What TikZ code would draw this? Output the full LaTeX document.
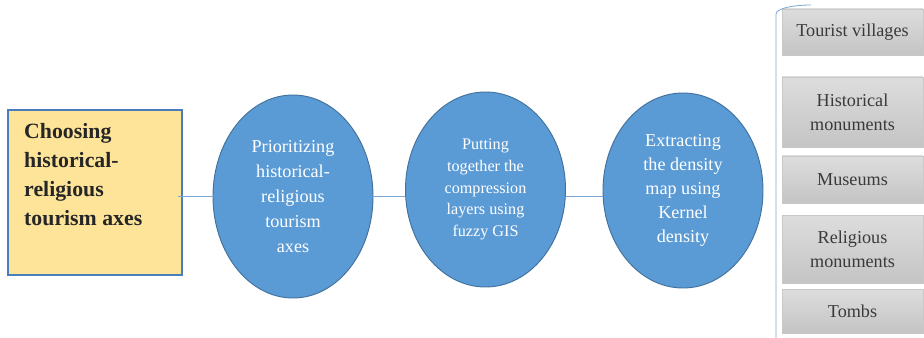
\documentclass[tikz,border=0pt]{standalone}
\usepackage{fontspec}
\setmainfont{LiberationSerif}[Extension=.ttf,UprightFont=*-Regular,BoldFont=*-Bold]
\usetikzlibrary{shapes.geometric}
\definecolor{stepblue}{HTML}{5B9BD5}
\definecolor{stepedge}{HTML}{41719C}
\definecolor{axisgold}{HTML}{FDE499}
\definecolor{axisedge}{HTML}{4A7EBB}
\definecolor{linkblue}{HTML}{7DA6D8}
\definecolor{layertop}{HTML}{DDDDDD}
\definecolor{layerbot}{HTML}{C4C4C4}
\definecolor{layeredge}{HTML}{C8C8C8}
\definecolor{layertext}{HTML}{3A3A3A}
\begin{document}
\begin{tikzpicture}[x=0.03cm,y=-0.03cm,
  stepell/.style={ellipse,draw=stepedge,line width=0.8pt,fill=stepblue,text=white,inner sep=0pt,minimum width=4.8cm,align=center},
  layerbox/.style={rectangle,draw=layeredge,line width=0.5pt,top color=layertop,bottom color=layerbot,text=layertext,minimum width=4.23cm,align=center,font=\fontsize{15.5}{20.5}\selectfont},
  link/.style={draw=linkblue,line width=0.7pt}]
\useasboundingbox (0,0) rectangle (924,338);
\node[rectangle,draw=axisedge,line width=1.2pt,fill=axisgold,minimum width=5.22cm,minimum height=4.95cm] (choose) at (95,192.5) {};
\node[anchor=north west,inner sep=0pt,align=left,text=black!85,font=\bfseries\fontsize{18.6}{24.7}\selectfont] (choosetxt) at (24,123) {Choosing\\historical-\\religious\\tourism axes};
\node[stepell,minimum height=6.09cm,font=\fontsize{15.5}{21.3}\selectfont] (prior) at (293,196.5) {Prioritizing\\historical-\\religious\\tourism\\axes};
\node[stepell,minimum height=5.85cm,font=\fontsize{13.8}{18.5}\selectfont] (layers) at (485.5,189.5) {Putting\\together the\\compression\\layers using\\fuzzy GIS};
\node[stepell,minimum height=5.85cm,font=\fontsize{15.5}{20.5}\selectfont] (kernel) at (683,190.5) {Extracting\\the density\\map using\\Kernel\\density};
\draw[link] ([xshift=-0.15cm]choose.east |- prior.west) -- (prior.west);
\draw[link] (prior.east) -- (prior.east -| layers.west);
\draw[link] (layers.east |- prior.east) -- (kernel.west |- prior.east);
\foreach \n/\yc/\h/\t in {villages/32/1.38/{Tourist villages},histmon/112/2.1/{Historical\\monuments},museums/179.5/1.41/{Museums},relmon/249/2.04/{Religious\\monuments},tombs/311/1.32/{Tombs}}
  \node[layerbox,minimum height=\h cm] (\n) at (852.5,\yc) {\t};
\coordinate (brbot) at (776,338);
\coordinate (brtop) at (776,14);
\coordinate (brend) at (811,5);
\draw[link] (brbot) -- (brtop) .. controls (776,8) and (795,5) .. (brend);
\end{tikzpicture}
\end{document}
